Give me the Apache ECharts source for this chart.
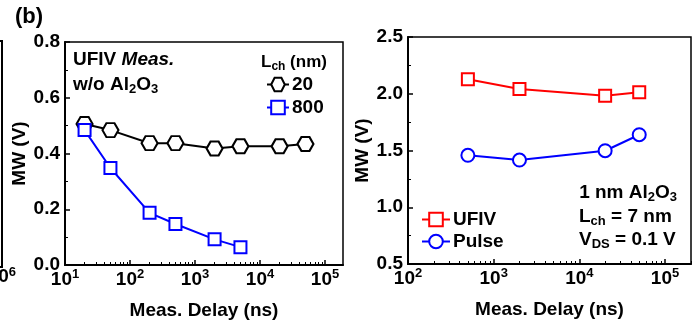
<!DOCTYPE html>
<html>
<head>
<meta charset="utf-8">
<script src="https://cdn.jsdelivr.net/npm/echarts@6/dist/echarts.min.js"></script>
<style>
  html, body { margin: 0; padding: 0; background: #fff; }
  #chart { width: 698px; height: 325px; }
</style>
</head>
<body>
<div id="chart"></div>
<script>
// left panel: UFIV measurement, w/o Al2O3
const delays20 = [20, 50, 200, 500, 2000, 5000, 20000, 50000];
const mw20 = [0.506, 0.484, 0.437, 0.437, 0.418, 0.426, 0.426, 0.434];
const delays800 = [20, 50, 200, 500, 2000, 5000];
const mw800 = [0.484, 0.348, 0.187, 0.147, 0.092, 0.064];
// right panel: 1 nm Al2O3, Lch = 7 nm
const delaysRight = [500, 2000, 20000, 50000];
const mwUFIV = [2.127, 2.042, 1.983, 2.013];
const mwPulse = [1.458, 1.416, 1.498, 1.639];
// tick labels
const leftDecades = [10, 100, 1000, 10000, 100000];
const rightDecades = [100, 1000, 10000, 100000];

const FONT = '"Liberation Sans", Arial, sans-serif';
const FS = 19;
const hexagon = 'path://M-1,0 L-0.5,-0.866 L0.5,-0.866 L1,0 L0.5,0.866 L-0.5,0.866 Z';

function minorsBetween(decades, max) {
    let out = [];
    decades.forEach(d => {
        for (let k = 2; k <= 9; k++) {
            if (d * k < max) out.push(d * k);
        }
    });
    return out;
}

const supRich = {
    b: {fontSize: FS, fontWeight: 'bold', fontFamily: FONT, color: '#000'},
    s: {fontSize: 13, fontWeight: 'bold', fontFamily: FONT, color: '#000', padding: [0, 0, 10, 0]}
};
function powLabel(v) {
    return '{b|10}{s|' + Math.round(Math.log10(v)) + '}';
}

function xAxes(gridIndex, min, max, decades) {
    return [
        {
            type: 'log', gridIndex: gridIndex, min: min, max: max, logBase: 10,
            name: 'Meas. Delay (ns)', nameLocation: 'middle', nameGap: 36,
            nameTextStyle: {fontSize: FS, fontWeight: 'bold', fontFamily: FONT, color: '#000'},
            axisLine: {lineStyle: {color: '#000', width: 2}},
            axisTick: {inside: true, length: 5, lineStyle: {color: '#000', width: 1.5}, customValues: decades},
            axisLabel: {customValues: decades, formatter: powLabel, rich: supRich, margin: 3},
            splitLine: {show: false}
        },
        {
            type: 'log', gridIndex: gridIndex, min: min, max: max, logBase: 10, position: 'bottom',
            axisLine: {show: false},
            axisTick: {inside: true, length: 3, lineStyle: {color: '#000', width: 1}, customValues: minorsBetween(decades, max)},
            axisLabel: {show: false},
            splitLine: {show: false}
        }
    ];
}

function yAxis(gridIndex, min, max, interval, gap) {
    return {
        type: 'value', gridIndex: gridIndex, min: min, max: max, interval: interval,
        name: 'MW (V)', nameLocation: 'middle', nameGap: gap,
        nameTextStyle: {fontSize: FS, fontWeight: 'bold', fontFamily: FONT, color: '#000'},
        axisLine: {show: true, lineStyle: {color: '#000', width: 2}},
        axisTick: {inside: true, length: 5, lineStyle: {color: '#000', width: 1.5}},
        minorTick: {show: true, splitNumber: 2, length: 3, lineStyle: {color: '#000', width: 1}},
        axisLabel: {fontSize: FS, fontWeight: 'bold', fontFamily: FONT, color: '#000', margin: 5,
            formatter: v => v.toFixed(1)},
        splitLine: {show: false}
    };
}

function zip(xs, ys) {
    return xs.map((x, i) => [x, ys[i]]);
}

function subRich(size) {
    return {
        n: {fontSize: size, fontWeight: 'bold', fontFamily: FONT, color: '#000'},
        i: {fontSize: size, fontWeight: 'bold', fontStyle: 'italic', fontFamily: FONT, color: '#000'},
        d: {fontSize: Math.round(size * 0.68), fontWeight: 'bold', fontFamily: FONT, color: '#000', padding: [9, 0, 0, 0]}
    };
}
function label(x, y, text, align, size) {
    size = size || FS;
    return {type: 'text', x: x, y: y,
        style: {text: text, rich: subRich(size), textAlign: align || 'left', textVerticalAlign: 'middle',
            fontSize: size, fontWeight: 'bold', fontFamily: FONT, fill: '#000'}};
}

const legendText = {fontSize: FS, fontWeight: 'bold', fontFamily: FONT, color: '#000', padding: [0, 0, 0, -2]};

let chart = echarts.init(document.getElementById('chart'));
chart.setOption({
    animation: false,
    backgroundColor: '#fff',
    grid: [
        {left: 65, top: 42, width: 278, height: 225, show: true, borderColor: '#000', borderWidth: 1.5, backgroundColor: 'transparent'},
        {left: 408, top: 37, width: 283, height: 227, show: true, borderColor: '#000', borderWidth: 1.5, backgroundColor: 'transparent'}
    ],
    xAxis: xAxes(0, 10, 189000, leftDecades).concat(xAxes(1, 100, 201000, rightDecades)),
    yAxis: [
        yAxis(0, 0, 0.8, 0.2, 36),
        yAxis(1, 0.5, 2.5, 0.5, 31)
    ],
    legend: [
        {
            data: ['20', '800'], orient: 'vertical', left: 266, top: 75, padding: 0,
            itemWidth: 22, itemHeight: 17, itemGap: 4, textStyle: legendText
        },
        {
            data: ['UFIV', 'Pulse'], orient: 'vertical', left: 421, top: 210, padding: 0,
            itemWidth: 28, itemHeight: 17, itemGap: 3, textStyle: legendText
        }
    ],
    series: [
        {
            name: '20', type: 'line', xAxisIndex: 0, yAxisIndex: 0,
            data: zip(delays20, mw20), symbol: hexagon, symbolSize: [16, 14],
            lineStyle: {color: '#000', width: 2},
            itemStyle: {color: '#fff', borderColor: '#000', borderWidth: 2}
        },
        {
            name: '800', type: 'line', xAxisIndex: 0, yAxisIndex: 0,
            data: zip(delays800, mw800), symbol: 'rect', symbolSize: 12,
            lineStyle: {color: '#0000ff', width: 2},
            itemStyle: {color: '#fff', borderColor: '#0000ff', borderWidth: 2}
        },
        {
            name: 'UFIV', type: 'line', xAxisIndex: 2, yAxisIndex: 1,
            data: zip(delaysRight, mwUFIV), symbol: 'rect', symbolSize: 12,
            lineStyle: {color: '#ff0000', width: 2},
            itemStyle: {color: '#fff', borderColor: '#ff0000', borderWidth: 2}
        },
        {
            name: 'Pulse', type: 'line', xAxisIndex: 2, yAxisIndex: 1,
            data: zip(delaysRight, mwPulse), symbol: 'circle', symbolSize: 13,
            lineStyle: {color: '#0000ff', width: 2},
            itemStyle: {color: '#fff', borderColor: '#0000ff', borderWidth: 2}
        }
    ],
    graphic: [
        // edge of the neighbouring panel (a), cut off by the crop
        {type: 'polyline', shape: {points: [[-5, 41], [2, 41], [2, 267], [-5, 267]]},
            style: {stroke: '#000', lineWidth: 2, fill: null}},
        {type: 'text', x: 16, y: 277,
            style: {text: powLabel(1e6), rich: supRich, textAlign: 'right', textVerticalAlign: 'middle'}},
        {type: 'text', x: 15, y: 17,
            style: {text: '(b)', fontSize: 22, fontWeight: 'bold', fontFamily: FONT, fill: '#000', textVerticalAlign: 'middle'}},
        label(73, 60, '{n|UFIV }{i|Meas.}'),
        label(73, 85, '{n|w/o Al}{d|2}{n|O}{d|3}'),
        label(261, 62, '{n|L}{d|ch}{n| (nm)}', 'left', 17),
        label(677, 193, '{n|1 nm Al}{d|2}{n|O}{d|3}', 'right'),
        label(579, 217, '{n|L}{d|ch}{n| = 7 nm}'),
        label(579, 240, '{n|V}{d|DS}{n| = 0.1 V}')
    ]
});
</script>
</body>
</html>
